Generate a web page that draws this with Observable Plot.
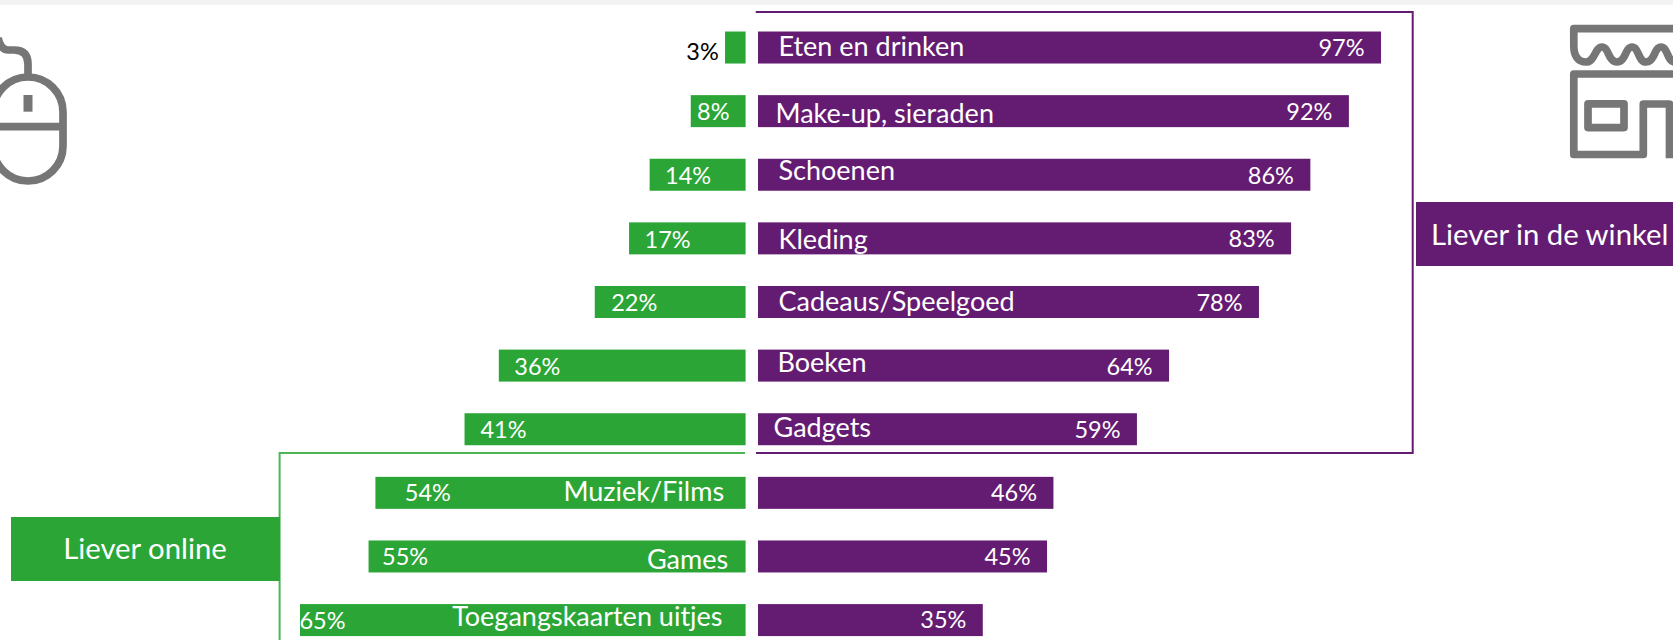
<!DOCTYPE html>
<html lang="nl">
<head>
<meta charset="utf-8">
<title>Liever online of in de winkel</title>
<script src="https://cdn.jsdelivr.net/npm/d3@7"></script>
<script src="https://cdn.jsdelivr.net/npm/@observablehq/plot@0.6"></script>
<style>
html,body{margin:0;padding:0;background:#fff;overflow:hidden;width:1673px;height:640px}
svg{display:block}
</style>
</head>
<body>
<div id="chart"></div>
<script>
const categories = ["Eten en drinken","Make-up, sieraden","Schoenen","Kleding","Cadeaus/Speelgoed","Boeken","Gadgets","Muziek/Films","Games","Toegangskaarten uitjes"];
const online = [3,8,14,17,22,36,41,54,55,65];
const winkel = [97,92,86,83,78,64,59,46,45,35];

const green = "#2ba636", purple = "#641c72", gray = "#767676";
const font = "Lato, 'Open Sans', sans-serif";
const gap = 12.4;          // white gap between the two sides

// hand placement of the labels in the reference, in pixels
const onlineDx = [-23,22,38,38,39,38,38.5,52,36,22];
const onlineDy = [4,1,1,2,1,1,1,0,1,1];
const winkelDy = [0,1,1,1,1,1,1,0,1,0];
const catDx = [20,17,20,20,20,19,15,-22,-18,-23.6];
const catDy = [-1,3,-4,1,0,-3,-1,-1,3,-3];
const rows = categories.map((c,i)=>({c,i,on:online[i],wi:winkel[i]}));
const leftCat = d => d.i < 7;

const plot = Plot.plot({
  width:1673, height:640,
  marginTop:0, marginBottom:0, marginLeft:0, marginRight:0,
  style:{fontFamily:font, background:"transparent"},
  x:{type:"linear", domain:[-65,0,97], range:[300,745.6,1368.6], axis:null},
  y:{domain:categories, range:[-0.1,667.7], padding:0.497, round:false, axis:null},
  marks:[
    Plot.barX(rows,{y:"c", x1:d=>-d.on, x2:0, fill:green}),
    Plot.barX(rows,{y:"c", x1:0, x2:"wi", fill:purple, dx:gap}),
    ...rows.map(d=>Plot.text([d],{
      y:"c", x:v=>-v.on, text:v=>v.on+"%", fontSize:23.5,
      fill:d.i===0?"#000":"#fff", dx:onlineDx[d.i], dy:onlineDy[d.i]
    })),
    ...rows.map(d=>Plot.text([d],{
      y:"c", x:"wi", text:v=>v.wi+"%", fontSize:23.5, fill:"#fff",
      dx:gap-40, dy:winkelDy[d.i]
    })),
    ...rows.map(d=>Plot.text([d],{
      y:"c", x:0, text:"c", fontSize:27, fill:"#fff",
      textAnchor:leftCat(d)?"start":"end",
      dx:(leftCat(d)?gap:0)+catDx[d.i], dy:catDy[d.i]
    }))
  ]
});
document.getElementById("chart").appendChild(plot);

// annotations around the chart: top band, brackets, call-out boxes, icons
const svg = d3.select(plot);
const deco = svg.insert("g",":first-child");
deco.append("rect").attr("width",1673).attr("height",4.7).attr("fill","#f2f2f2");
const line = (g,d,c,w)=>g.append("path").attr("d",d).attr("fill","none").attr("stroke",c).attr("stroke-width",w);
line(deco,"M755.7,12 H1412.7 V453 H756",purple,2);
line(deco,"M745,453 H279.6 V640","#4cb555",2);
deco.append("rect").attr("x",11).attr("y",517).attr("width",269).attr("height",64).attr("fill",green);
deco.append("rect").attr("x",1416).attr("y",202).attr("width",257).attr("height",64).attr("fill",purple);
const box = (x,y,t,a)=>svg.append("text").attr("x",x).attr("y",y).attr("text-anchor",a)
  .attr("fill","#fff").attr("font-size",29.3).attr("font-family",font).text(t);
box(145,559,"Liever online","middle");
box(1431,245,"Liever in de winkel","start");

const sw = 7.7;
const mouse = svg.append("g");
line(mouse,"M63,112 A35,35 0 0 0 -7,112 V146 A35,35 0 0 0 63,146 Z",gray,sw);
line(mouse,"M-7,126.7 H63",gray,sw);
line(mouse,"M28,95 V111.7",gray,9);
line(mouse,"M28,76 V64 Q28,50 14,50 H8 Q1,50 -2,38",gray,sw);

const shop = svg.append("g").attr("stroke-linejoin","round");
line(shop,"M1680,28.7 H1573.8 V46 C1573.8,56 1578,62 1586,62 C1595,62 1595,47 1602,47 C1609,47 1608,62 1617,62 C1626,62 1625,47 1632,47 C1639,47 1638,62 1646,62 C1655,62 1654,47 1661,47 C1668,47 1667,62 1675,62",gray,sw);
line(shop,"M1680,74 H1573.8 V154.5 H1643.3 V104 H1669.5 V158.3",gray,sw);
line(shop,"M1588,103.8 H1624 V127.6 H1588 Z",gray,sw);
</script>
</body>
</html>
